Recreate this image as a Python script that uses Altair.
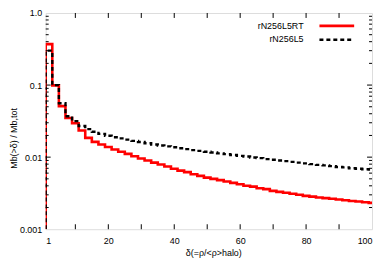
import altair as alt
import pandas as pd

# ---- data ----
series_names = ["rN256L5RT", "rN256L5"]
bin_left_edges = list(range(1, 100, 2))  # bins of width 2 in delta
last_edge = 100
floor_value = 0.001

red_vals = [0.37, 0.099, 0.051, 0.035, 0.0296, 0.0234, 0.0185, 0.0163, 0.0150, 0.0138,
            0.0128, 0.0119, 0.0111, 0.0103, 0.0096, 0.0090, 0.0084, 0.0079, 0.0074, 0.0069,
            0.0065, 0.0062, 0.0058, 0.0055, 0.0052, 0.0050, 0.0048, 0.0046, 0.0044, 0.0042,
            0.0040, 0.0039, 0.0037, 0.0036, 0.0034, 0.0033, 0.0032, 0.0031, 0.0030, 0.0029,
            0.00283, 0.00276, 0.00270, 0.00264, 0.00258, 0.00252, 0.00247, 0.00242, 0.00237, 0.00232]

black_vals = [0.30, 0.100, 0.056, 0.037, 0.0316, 0.027, 0.0245, 0.0225, 0.0210, 0.0198,
              0.0189, 0.0182, 0.0175, 0.0168, 0.0162, 0.0156, 0.0150, 0.0145, 0.0141, 0.0137,
              0.0133, 0.0129, 0.0125, 0.0122, 0.0119, 0.0116, 0.0113, 0.0110, 0.0107, 0.0104,
              0.0102, 0.0099, 0.0097, 0.0094, 0.0092, 0.0090, 0.0088, 0.0086, 0.0084, 0.0082,
              0.0080, 0.0078, 0.0077, 0.0075, 0.0073, 0.0072, 0.0070, 0.0069, 0.0068, 0.0067]

x_label_values = [1, 20, 40, 60, 80, 100]
x_tick_values = [10, 20, 30, 40, 50, 60, 70, 80, 90]
y_major_values = [0.001, 0.01, 0.1, 1.0]
y_minor_values = [0.002, 0.003, 0.004, 0.005, 0.006, 0.007, 0.008, 0.009,
                  0.02, 0.03, 0.04, 0.05, 0.06, 0.07, 0.08, 0.09,
                  0.2, 0.3, 0.4, 0.5, 0.6, 0.7, 0.8, 0.9]


def step_rows(name, vals):
    rows = [{"series": name, "idx": 0, "delta": bin_left_edges[0], "frac": floor_value}]
    for k, (e, v) in enumerate(zip(bin_left_edges, vals)):
        rows.append({"series": name, "idx": k + 1, "delta": e, "frac": v})
    rows.append({"series": name, "idx": len(vals) + 1, "delta": last_edge, "frac": vals[-1]})
    return rows


red_df = pd.DataFrame(step_rows(series_names[0], red_vals))
black_df = pd.DataFrame(step_rows(series_names[1], black_vals))

W, H = 329, 218
FONT = "Liberation Sans"

xscale = alt.Scale(domain=[1, 100], nice=False, zero=False)
yscale = alt.Scale(type="log", domain=[0.001, 1], nice=False)

x_axis = alt.Axis(values=x_label_values, ticks=False, tickSize=0, domain=False, grid=False,
                  labelPadding=7, labelFontSize=9, labelFont=FONT, labelColor="black",
                  title="δ(=ρ/<ρ>halo)", titleFontSize=9, titleFont=FONT, titleFontWeight="normal",
                  titleColor="black", titleX=169, titleY=24, titleBaseline="middle")
y_axis = alt.Axis(values=y_major_values, ticks=False, tickSize=0, domain=False, grid=False,
                  labelPadding=4, labelFontSize=9, labelFont=FONT, labelColor="black",
                  labelExpr="datum.value >= 1 ? '1.0' : (datum.value >= 0.1 ? '0.1' : (datum.value >= 0.01 ? '0.01' : '0.001'))",
                  title="Mb(>δ) / Mb,tot", titleFontSize=9, titleFont=FONT, titleFontWeight="normal",
                  titleColor="black", titleX=-32, titleY=126, titleAngle=270,
                  titleBaseline="middle", titleAlign="center")

X = lambda f: alt.X(f, scale=xscale, axis=x_axis)
Y = lambda f: alt.Y(f, scale=yscale, axis=y_axis)

red_line = alt.Chart(red_df).mark_line(color="#ff0000", strokeWidth=2.6, interpolate="step-after",
                                       clip=True).encode(
    x=X("delta:Q"), y=Y("frac:Q"), order="idx:Q",
)

black_line = alt.Chart(black_df).mark_line(color="black", strokeWidth=2.4, strokeDash=[4, 3],
                                           interpolate="step-after", clip=True).encode(
    x=X("delta:Q"), y=Y("frac:Q"), order="idx:Q",
)

xt_df = pd.DataFrame({"delta": x_tick_values})
ymaj_df = pd.DataFrame({"frac": y_major_values[1:-1]})
ymin_df = pd.DataFrame({"frac": y_minor_values})

tick_style = dict(color="black", strokeWidth=1)

x_ticks_bottom = alt.Chart(xt_df).mark_rule(**tick_style).encode(
    x=X("delta:Q"), y=alt.value(H), y2=alt.value(H - 5))
x_ticks_top = alt.Chart(xt_df).mark_rule(**tick_style).encode(
    x=X("delta:Q"), y=alt.value(0), y2=alt.value(5))
y_major_left = alt.Chart(ymaj_df).mark_rule(**tick_style).encode(
    y=Y("frac:Q"), x=alt.value(0), x2=alt.value(5))
y_major_right = alt.Chart(ymaj_df).mark_rule(**tick_style).encode(
    y=Y("frac:Q"), x=alt.value(W), x2=alt.value(W - 5))
y_minor_left = alt.Chart(ymin_df).mark_rule(**tick_style).encode(
    y=Y("frac:Q"), x=alt.value(0), x2=alt.value(3))
y_minor_right = alt.Chart(ymin_df).mark_rule(**tick_style).encode(
    y=Y("frac:Q"), x=alt.value(W), x2=alt.value(W - 3))

# legend (label left, sample line right)
leg_df = pd.DataFrame({"name": series_names})
leg_red_text = alt.Chart(leg_df.iloc[[0]]).mark_text(align="right", baseline="middle", fontSize=9,
                                                     font=FONT, color="black").encode(
    text="name:N", x=alt.value(260), y=alt.value(13))
leg_black_text = alt.Chart(leg_df.iloc[[1]]).mark_text(align="right", baseline="middle", fontSize=9,
                                                       font=FONT, color="black").encode(
    text="name:N", x=alt.value(260), y=alt.value(26))
leg_red_line = alt.Chart(leg_df.iloc[[0]]).mark_rule(color="#ff0000", strokeWidth=2.6).encode(
    x=alt.value(276), x2=alt.value(311), y=alt.value(13))
leg_black_line = alt.Chart(leg_df.iloc[[1]]).mark_rule(color="black", strokeWidth=2.4,
                                                       strokeDash=[4, 3]).encode(
    x=alt.value(276), x2=alt.value(311), y=alt.value(27))

chart = alt.layer(
    red_line, black_line,
    x_ticks_bottom, x_ticks_top, y_major_left, y_major_right, y_minor_left, y_minor_right,
    leg_red_text, leg_black_text, leg_red_line, leg_black_line,
).properties(
    width=W, height=H,
    autosize=alt.AutoSizeParams(type="none"),
    padding={"left": 38, "top": 4, "right": 2, "bottom": 30},
).configure_view(
    stroke="black", strokeWidth=1,
).configure(background="white")

chart.save("out.html", embed_options={"renderer": "svg", "actions": False})
